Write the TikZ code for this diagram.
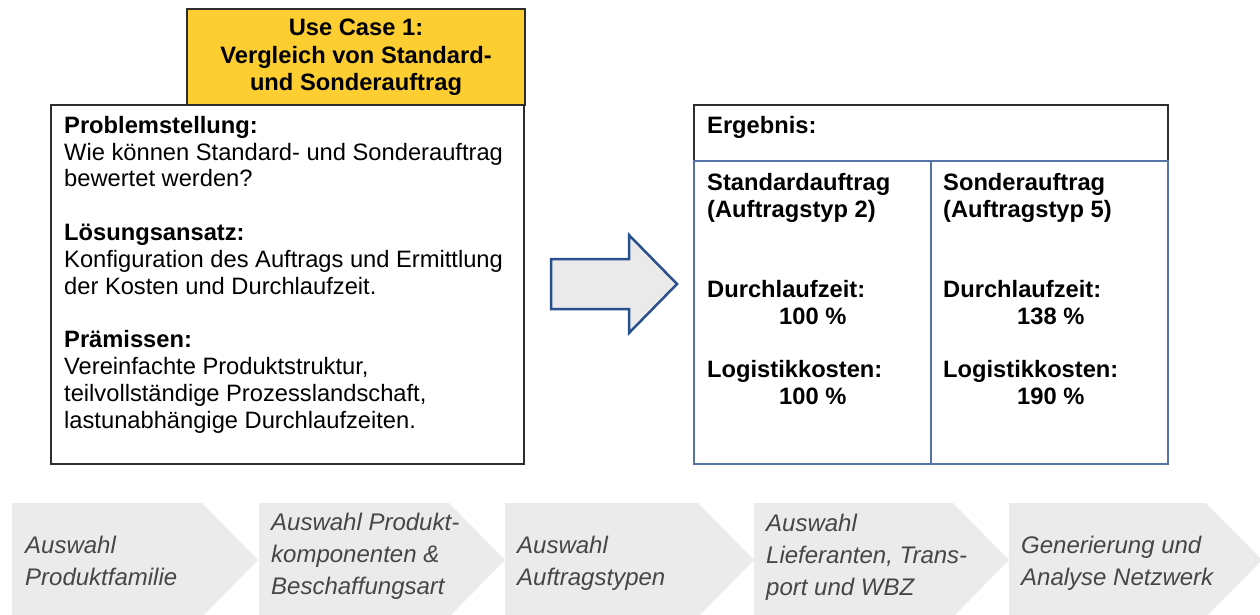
\documentclass[tikz,border=0pt]{standalone}
\usepackage{fontspec}
\setmainfont{Liberation Sans}
\definecolor{caseyellow}{RGB}{252,206,50}
\definecolor{framegray}{RGB}{45,45,45}
\definecolor{arrowblue}{RGB}{40,80,140}
\definecolor{arrowfill}{RGB}{234,234,234}
\definecolor{tableblue}{RGB}{85,115,165}
\definecolor{stepfill}{RGB}{235,235,235}
\definecolor{steptext}{RGB}{70,70,70}
\begin{document}
\begin{tikzpicture}[x=1pt,y=-1pt,
  bodytext/.style={font=\fontsize{23.7}{26.8}\selectfont, align=left, anchor=north west, inner sep=0pt},
  titletext/.style={font=\fontsize{23.7}{27.5}\selectfont\bfseries, align=center, anchor=north, inner sep=0pt},
  steptext/.style={font=\fontsize{24}{32}\selectfont\itshape, text=steptext, align=left, anchor=north west, inner sep=0pt},
  chevron/.style={fill=stepfill, draw=none}
]
\useasboundingbox (0,0) rectangle (1260,614);

% title box and problem description
\draw[fill=caseyellow, draw=framegray, line width=1.5pt] (187,9) rectangle (525,105);
\node[titletext] (title) at (356,19) {Use Case 1:\\Vergleich von Standard-\\und Sonderauftrag};
\draw[fill=white, draw=framegray, line width=2pt] (51,105) rectangle (524,464);
\node[bodytext] (problem) at (64,116) {%
  \textbf{Problemstellung:}\\
  Wie können Standard- und Sonderauftrag\\
  bewertet werden?\\[26.8pt]
  \textbf{Lösungsansatz:}\\
  Konfiguration des Auftrags und Ermittlung\\
  der Kosten und Durchlaufzeit.\\[26.8pt]
  \textbf{Prämissen:}\\
  Vereinfachte Produktstruktur,\\
  teilvollständige Prozesslandschaft,\\
  lastunabhängige Durchlaufzeiten.};

% block arrow
\draw[fill=arrowfill, draw=arrowblue, line width=2.5pt, line join=miter]
  (551,259) -- (629,259) -- (629,235) -- (677,284) -- (629,333) -- (629,309) -- (551,309) -- cycle;

% result table
\draw[fill=white, draw=framegray, line width=2pt] (694,105) rectangle (1168,161);
\draw[fill=white, draw=tableblue, line width=2pt] (694,161) rectangle (1168,464);
\draw[draw=tableblue, line width=2pt] (931,161) -- (931,464);
\node[bodytext, font=\fontsize{23.7}{26.8}\selectfont\bfseries] (result) at (707,116) {Ergebnis:};
\node[bodytext, font=\fontsize{23.7}{26.8}\selectfont\bfseries] (standard) at (707,173) {%
  Standardauftrag\\
  (Auftragstyp 2)\\[53.6pt]
  Durchlaufzeit:\\
  \hspace*{72pt}100 \%\\[26.8pt]
  Logistikkosten:\\
  \hspace*{72pt}100 \%};
\node[bodytext, font=\fontsize{23.7}{26.8}\selectfont\bfseries] (special) at (943,173) {%
  Sonderauftrag\\
  (Auftragstyp 5)\\[53.6pt]
  Durchlaufzeit:\\
  \hspace*{74pt}138 \%\\[26.8pt]
  Logistikkosten:\\
  \hspace*{74pt}190 \%};

% process chevrons
\begin{scope}
\clip (0,0) rectangle (1260,614);
\foreach \l/\r in {12/258, 259/505, 505/754, 754/1009, 1009/1262} {
  \fill[chevron] (\l,503) -- (\r-56,503) -- (\r,560) -- (\r-56,617) -- (\l,617) -- cycle;
}
\end{scope}
\node[steptext] (s1) at (25,535.5) {Auswahl\\Produktfamilie};
\node[steptext] (s2) at (271,513) {Auswahl Produkt-\\komponenten \&\\Beschaffungsart};
\node[steptext] (s3) at (517,535.5) {Auswahl\\Auftragstypen};
\node[steptext] (s4) at (766,514) {Auswahl\\Lieferanten, Trans-\\port und WBZ};
\node[steptext] (s5) at (1021,535.5) {Generierung und\\Analyse Netzwerk};
\end{tikzpicture}
\end{document}
